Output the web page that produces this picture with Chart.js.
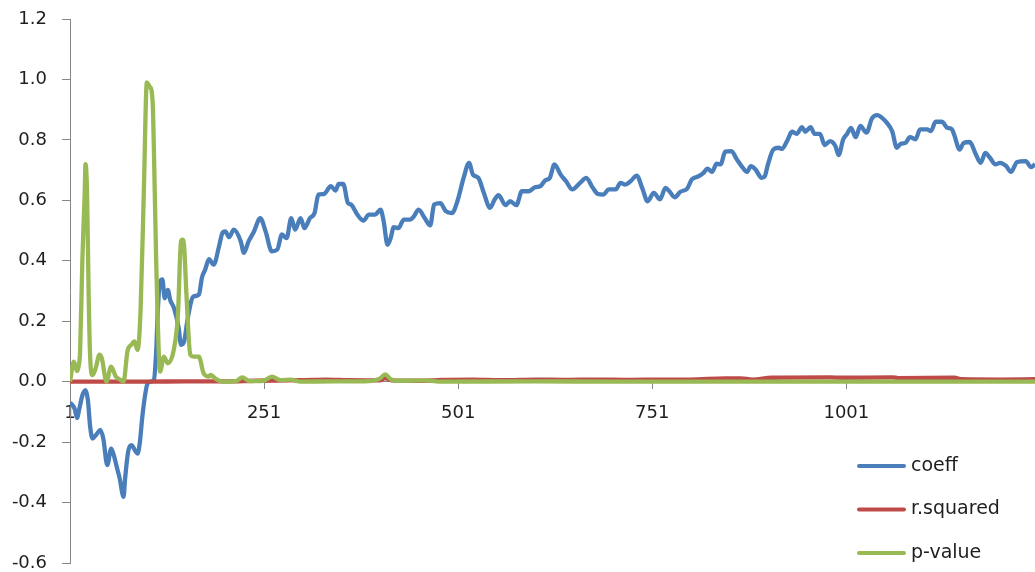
<!DOCTYPE html>
<html>
<head>
<meta charset="utf-8">
<script src="https://cdn.jsdelivr.net/npm/chart.js@4/dist/chart.umd.min.js"></script>
<style>
  html, body { margin: 0; padding: 0; background: #fff; }
  #wrap { position: relative; width: 1035px; height: 572px; }
</style>
</head>
<body>
<div id="wrap"><canvas id="chart"></canvas></div>
<script>
// category axis labels
const xTicks = [1, 251, 501, 751, 1001];

// coeff (rolling regression coefficient)
const coeffX = [1, 4, 7, 10, 13, 17, 21, 24, 27, 30, 35, 40, 44, 49, 54, 57, 62, 65, 70, 72, 76, 80, 88, 91, 94, 98,
  101, 105, 109, 112, 114, 117, 120, 123, 127, 130, 135, 141, 144, 148, 152, 157, 160, 167, 171, 175, 180, 186, 193, 197,
  201, 206, 212, 221, 225, 231, 238, 246, 253, 261, 268, 274, 280, 286, 291, 298, 303, 310, 316, 321, 328, 337, 343, 347,
  353, 359, 363, 371, 379, 386, 394, 401, 405, 410, 414, 418, 424, 431, 439, 444, 450, 458, 465, 470, 478, 485, 493, 500,
  508, 515, 520, 527, 534, 542, 548, 553, 562, 568, 576, 583, 592, 600, 607, 613, 619, 625, 633, 640, 648, 658, 666, 674,
  681, 688, 695, 704, 710, 716, 723, 731, 738, 745, 753, 761, 768, 773, 780, 787, 796, 802, 811, 817, 822, 828, 834, 839,
  845, 853, 860, 867, 873, 878, 884, 892, 896, 900, 907, 914, 918, 925, 931, 937, 944, 948, 955, 960, 967, 973, 980, 987,
  991, 997, 1002, 1007, 1013, 1019, 1027, 1034, 1041, 1047, 1053, 1060, 1066, 1071, 1077, 1083, 1090, 1096, 1105, 1110,
  1116, 1124, 1131, 1137, 1140, 1147, 1152, 1160, 1167, 1174, 1180, 1186, 1193, 1199, 1207, 1213, 1221, 1232, 1239, 1244];
const coeffY = [-0.07, -0.077, -0.09, -0.12, -0.09, -0.045, -0.028, -0.06, -0.15, -0.188, -0.175, -0.16, -0.19, -0.276,
  -0.222, -0.24, -0.29, -0.32, -0.381, -0.32, -0.23, -0.21, -0.238, -0.2, -0.12, -0.04,
  -0.005, 0.0, 0.005, 0.1, 0.23, 0.33, 0.338, 0.276, 0.304, 0.271, 0.243, 0.177, 0.122, 0.133, 0.199, 0.265, 0.282, 0.288,
  0.345, 0.37, 0.405, 0.387, 0.448, 0.49,
  0.497, 0.478, 0.503, 0.464, 0.426, 0.464, 0.497, 0.541, 0.497, 0.431, 0.437, 0.487, 0.475, 0.541, 0.503, 0.541, 0.508,
  0.541, 0.558, 0.619, 0.621, 0.647, 0.632, 0.654,
  0.654, 0.591, 0.586, 0.553, 0.533, 0.553, 0.553, 0.569, 0.531, 0.453, 0.475, 0.511, 0.508, 0.536, 0.536, 0.547, 0.569,
  0.541, 0.517, 0.586, 0.591, 0.564, 0.558, 0.597,
  0.674, 0.724, 0.685, 0.674, 0.625, 0.575, 0.603, 0.617, 0.584, 0.597, 0.584, 0.63, 0.63, 0.643, 0.647, 0.666, 0.674,
  0.719, 0.685, 0.663, 0.636, 0.658, 0.674, 0.643,
  0.621, 0.619, 0.636, 0.636, 0.658, 0.652, 0.663, 0.682, 0.641, 0.597, 0.625, 0.603, 0.641, 0.63, 0.61, 0.628, 0.639,
  0.669, 0.68, 0.691, 0.705, 0.694, 0.721, 0.719,
  0.761, 0.763, 0.735, 0.71, 0.694, 0.713, 0.702, 0.674, 0.68, 0.719, 0.768, 0.774, 0.77, 0.798, 0.827, 0.82, 0.842,
  0.827, 0.842, 0.82, 0.82, 0.783, 0.796, 0.779,
  0.75, 0.802, 0.82, 0.84, 0.809, 0.846, 0.824, 0.871, 0.882, 0.873, 0.857, 0.829, 0.774, 0.787, 0.79, 0.809, 0.802,
  0.835, 0.835, 0.829,
  0.86, 0.86, 0.84, 0.835, 0.816, 0.768, 0.79, 0.793, 0.757, 0.724, 0.757, 0.741, 0.719, 0.724, 0.713, 0.694, 0.727,
  0.73, 0.71, 0.719];

// r.squared
const rsqX = [1, 100, 150, 200, 240, 300, 330, 360, 400, 407, 415, 450, 480, 520, 560, 600, 640, 680, 720, 760, 800,
  845, 865, 880, 905, 980, 995, 1060, 1068, 1140, 1150, 1200, 1244];
const rsqY = [0, 0, 0.001, 0.001, 0.003, 0.005, 0.007, 0.005, 0.004, 0.012, 0.004, 0.003, 0.006, 0.007, 0.005, 0.007,
  0.006, 0.007, 0.006, 0.007, 0.007, 0.011, 0.011, 0.007, 0.013, 0.014, 0.013, 0.014, 0.012, 0.013, 0.008, 0.007, 0.008];

// p-value
const pvalX = [1, 6, 10, 12, 14, 17, 20, 21, 23, 25, 27, 30, 34, 39, 42, 48, 54, 60, 66, 70, 75, 80, 84, 88, 92, 96,
  100, 104, 106, 108, 110, 112, 114, 117, 122, 127, 135, 140, 144, 146, 148, 151, 156, 160, 167, 173, 180, 182, 188, 197,
  215, 223, 232, 250, 261, 272, 285, 298, 340, 380, 400, 407, 414, 425, 460, 480, 600, 700, 800, 900, 1000, 1100, 1244];
const pvalY = [0, 0.066, 0.035, 0.05, 0.1, 0.409, 0.63, 0.72, 0.62, 0.29, 0.08, 0.022, 0.044, 0.089, 0.077, 0.0, 0.05,
  0.017, 0.006, 0.0, 0.1, 0.122, 0.133, 0.105, 0.243, 0.619,
  0.99, 0.975, 0.965, 0.89, 0.65, 0.4, 0.2, 0.033, 0.083, 0.061, 0.11, 0.221, 0.464, 0.47, 0.448, 0.288, 0.089, 0.083,
  0.083, 0.028, 0.017, 0.022, 0.011, 0.0,
  0.002, 0.014, 0.002, 0.003, 0.017, 0.005, 0.007, 0.0, 0.001, 0.001, 0.01, 0.024, 0.008, 0.003, 0.004, 0.0, 0.001, 0.0,
  0.0, 0.0, 0.0, 0.0, 0.0];

const points = (xs, ys) => xs.map((x, i) => ({ x, y: ys[i] }));

const axisColor = "#868686";
const tickFont = { family: "'DejaVu Sans', sans-serif", size: 18 };

// legend drawn over the empty lower-right corner of the plot
const sideLegend = {
  id: "sideLegend",
  afterDraw(chart) {
    const { ctx } = chart;
    ctx.save();
    ctx.font = "19px 'DejaVu Sans', sans-serif";
    ctx.textBaseline = "middle";
    ctx.textAlign = "left";
    chart.data.datasets.forEach((ds, i) => {
      const y = 466 + i * 43.5;
      ctx.strokeStyle = ds.borderColor;
      ctx.lineWidth = 4;
      ctx.lineCap = "round";
      ctx.beginPath();
      ctx.moveTo(859, y);
      ctx.lineTo(904, y);
      ctx.stroke();
      ctx.fillStyle = "#1e1e1e";
      ctx.fillText(ds.label, 911, y);
    });
    ctx.restore();
  },
};

const lineSet = (label, data, color, order) => ({
  label, data, order,
  borderColor: color,
  backgroundColor: color,
  borderWidth: 4.3,
  pointRadius: 0,
  fill: false,
  cubicInterpolationMode: "monotone",
  borderJoinStyle: "round",
});

new Chart(document.getElementById("chart"), {
  type: "line",
  data: {
    datasets: [
      lineSet("coeff", points(coeffX, coeffY), "#4A7EBB", 2),
      lineSet("r.squared", points(rsqX, rsqY), "#BE4B48", 1),
      lineSet("p-value", points(pvalX, pvalY), "#98B954", 0),
    ],
  },
  options: {
    responsive: true,
    maintainAspectRatio: false,
    animation: false,
    devicePixelRatio: 1,
    layout: { padding: { top: 19, bottom: 9, left: 0, right: 0 } },
    plugins: { legend: { display: false }, tooltip: { enabled: false } },
    scales: {
      x: {
        type: "linear",
        min: 1,
        max: 1244,
        position: { y: 0 },
        border: { color: axisColor, width: 1 },
        grid: { drawOnChartArea: false, tickLength: 7, color: axisColor },
        ticks: { font: tickFont, color: "#1e1e1e", padding: 14, autoSkip: false, maxRotation: 0,
          callback: (v) => String(v) },
        afterBuildTicks: (s) => { s.ticks = xTicks.map((v) => ({ value: v })); },
        // the axis sits inside the plot at y = 0, so it takes no layout room
        afterFit: (s) => { s.height = 0; },
      },
      y: {
        min: -0.6,
        max: 1.2,
        border: { color: axisColor, width: 1 },
        grid: { drawOnChartArea: false, tickLength: 8, color: axisColor },
        ticks: { stepSize: 0.2, font: tickFont, color: "#1e1e1e", padding: 15,
          callback: (v) => (Math.abs(v) < 1e-9 ? "0.0" : v.toFixed(1)) },
        // fixed axis width; end labels may overhang, the layout padding covers them
        afterFit: (s) => {
          s.width = 70;
          s.paddingTop = 0;
          s.paddingBottom = 0;
        },
      },
    },
  },
  plugins: [sideLegend],
});
</script>
</body>
</html>
